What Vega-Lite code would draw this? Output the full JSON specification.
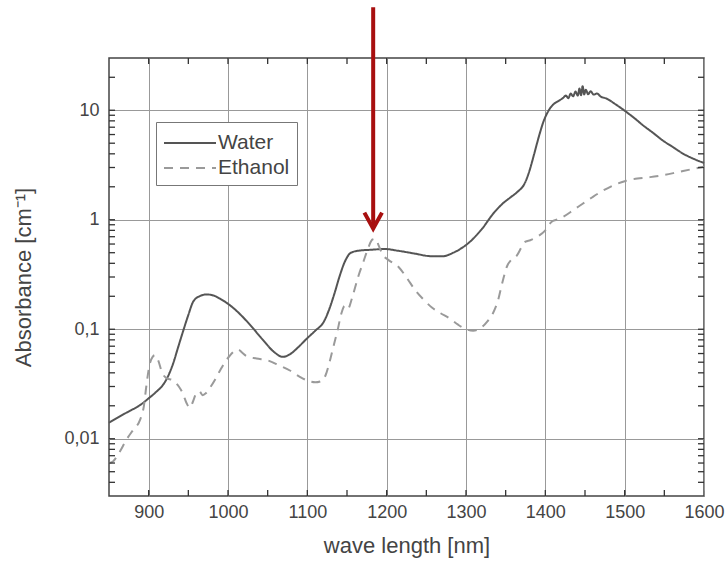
{
  "$schema": "https://vega.github.io/schema/vega-lite/v6.json",
  "width": 595,
  "height": 438,
  "autosize": {"type": "pad"},
  "padding": {"left": 12, "top": 5, "right": 0, "bottom": 6},
  "background": "white",
  "config": {
    "font": "Liberation Sans",
    "view": {"stroke": "#444", "strokeWidth": 1.5},
    "axis": {
      "domain": false,
      "gridColor": "#999",
      "gridWidth": 1,
      "labelFont": "Liberation Sans",
      "labelFontSize": 18,
      "labelColor": "#444",
      "titleFont": "Liberation Sans",
      "titleFontSize": 22,
      "titleFontWeight": "normal",
      "titleColor": "#444",
      "labelOverlap": false,
      "labelFlush": false
    }
  },
  "datasets": {
    "spectra": [
      {"s": "Water", "wl": 850, "a": 0.014},
      {"s": "Water", "wl": 872, "a": 0.0173},
      {"s": "Water", "wl": 890, "a": 0.0205},
      {"s": "Water", "wl": 900, "a": 0.0234},
      {"s": "Water", "wl": 910, "a": 0.027},
      {"s": "Water", "wl": 918, "a": 0.031},
      {"s": "Water", "wl": 925, "a": 0.038},
      {"s": "Water", "wl": 931, "a": 0.049},
      {"s": "Water", "wl": 937, "a": 0.068},
      {"s": "Water", "wl": 943, "a": 0.094},
      {"s": "Water", "wl": 950, "a": 0.135},
      {"s": "Water", "wl": 956, "a": 0.178},
      {"s": "Water", "wl": 964, "a": 0.2},
      {"s": "Water", "wl": 973, "a": 0.208},
      {"s": "Water", "wl": 982, "a": 0.203},
      {"s": "Water", "wl": 990, "a": 0.19},
      {"s": "Water", "wl": 1006, "a": 0.158},
      {"s": "Water", "wl": 1023, "a": 0.12},
      {"s": "Water", "wl": 1044, "a": 0.08},
      {"s": "Water", "wl": 1058, "a": 0.062},
      {"s": "Water", "wl": 1069, "a": 0.056},
      {"s": "Water", "wl": 1078, "a": 0.059},
      {"s": "Water", "wl": 1088, "a": 0.068},
      {"s": "Water", "wl": 1100, "a": 0.083},
      {"s": "Water", "wl": 1110, "a": 0.097},
      {"s": "Water", "wl": 1121, "a": 0.118},
      {"s": "Water", "wl": 1128, "a": 0.155},
      {"s": "Water", "wl": 1134, "a": 0.21},
      {"s": "Water", "wl": 1141, "a": 0.31},
      {"s": "Water", "wl": 1147, "a": 0.41},
      {"s": "Water", "wl": 1155, "a": 0.5},
      {"s": "Water", "wl": 1165, "a": 0.522},
      {"s": "Water", "wl": 1180, "a": 0.532},
      {"s": "Water", "wl": 1198, "a": 0.54},
      {"s": "Water", "wl": 1215, "a": 0.52},
      {"s": "Water", "wl": 1236, "a": 0.49},
      {"s": "Water", "wl": 1255, "a": 0.465},
      {"s": "Water", "wl": 1270, "a": 0.463},
      {"s": "Water", "wl": 1284, "a": 0.5},
      {"s": "Water", "wl": 1296, "a": 0.56},
      {"s": "Water", "wl": 1308, "a": 0.66},
      {"s": "Water", "wl": 1321, "a": 0.84},
      {"s": "Water", "wl": 1334, "a": 1.13},
      {"s": "Water", "wl": 1346, "a": 1.4},
      {"s": "Water", "wl": 1356, "a": 1.6},
      {"s": "Water", "wl": 1365, "a": 1.8},
      {"s": "Water", "wl": 1374, "a": 2.15},
      {"s": "Water", "wl": 1380, "a": 2.8},
      {"s": "Water", "wl": 1386, "a": 4.0},
      {"s": "Water", "wl": 1392, "a": 5.8},
      {"s": "Water", "wl": 1398, "a": 8.0},
      {"s": "Water", "wl": 1404, "a": 9.9},
      {"s": "Water", "wl": 1410, "a": 11.3},
      {"s": "Water", "wl": 1417, "a": 12.2},
      {"s": "Water", "wl": 1422, "a": 12.9},
      {"s": "Water", "wl": 1426, "a": 13.6},
      {"s": "Water", "wl": 1429, "a": 12.9},
      {"s": "Water", "wl": 1432, "a": 14.2},
      {"s": "Water", "wl": 1435, "a": 13.4},
      {"s": "Water", "wl": 1438, "a": 14.8},
      {"s": "Water", "wl": 1441, "a": 13.6},
      {"s": "Water", "wl": 1443, "a": 15.8},
      {"s": "Water", "wl": 1445, "a": 13.7},
      {"s": "Water", "wl": 1447, "a": 16.6},
      {"s": "Water", "wl": 1449, "a": 13.9},
      {"s": "Water", "wl": 1451, "a": 15.4},
      {"s": "Water", "wl": 1454, "a": 14.0},
      {"s": "Water", "wl": 1457, "a": 14.9},
      {"s": "Water", "wl": 1461, "a": 13.9},
      {"s": "Water", "wl": 1465, "a": 14.2},
      {"s": "Water", "wl": 1470, "a": 13.3},
      {"s": "Water", "wl": 1477, "a": 12.8},
      {"s": "Water", "wl": 1488, "a": 11.4},
      {"s": "Water", "wl": 1500, "a": 9.9},
      {"s": "Water", "wl": 1512, "a": 8.5},
      {"s": "Water", "wl": 1523, "a": 7.3},
      {"s": "Water", "wl": 1536, "a": 6.2},
      {"s": "Water", "wl": 1548, "a": 5.3},
      {"s": "Water", "wl": 1561, "a": 4.6},
      {"s": "Water", "wl": 1574, "a": 4.0},
      {"s": "Water", "wl": 1587, "a": 3.6},
      {"s": "Water", "wl": 1600, "a": 3.3},
      {"s": "Ethanol", "wl": 850, "a": 0.006},
      {"s": "Ethanol", "wl": 855, "a": 0.0062},
      {"s": "Ethanol", "wl": 863, "a": 0.0075},
      {"s": "Ethanol", "wl": 872, "a": 0.0098},
      {"s": "Ethanol", "wl": 881, "a": 0.0122},
      {"s": "Ethanol", "wl": 889, "a": 0.0148},
      {"s": "Ethanol", "wl": 894, "a": 0.02},
      {"s": "Ethanol", "wl": 897, "a": 0.03},
      {"s": "Ethanol", "wl": 901, "a": 0.047},
      {"s": "Ethanol", "wl": 905, "a": 0.056},
      {"s": "Ethanol", "wl": 908, "a": 0.058},
      {"s": "Ethanol", "wl": 912, "a": 0.052},
      {"s": "Ethanol", "wl": 917, "a": 0.04},
      {"s": "Ethanol", "wl": 922, "a": 0.036},
      {"s": "Ethanol", "wl": 931, "a": 0.034},
      {"s": "Ethanol", "wl": 938, "a": 0.03},
      {"s": "Ethanol", "wl": 943, "a": 0.026},
      {"s": "Ethanol", "wl": 948, "a": 0.021},
      {"s": "Ethanol", "wl": 952, "a": 0.0192},
      {"s": "Ethanol", "wl": 956, "a": 0.022},
      {"s": "Ethanol", "wl": 960, "a": 0.026},
      {"s": "Ethanol", "wl": 964, "a": 0.027},
      {"s": "Ethanol", "wl": 968, "a": 0.025},
      {"s": "Ethanol", "wl": 972, "a": 0.026},
      {"s": "Ethanol", "wl": 977, "a": 0.029},
      {"s": "Ethanol", "wl": 984, "a": 0.035},
      {"s": "Ethanol", "wl": 990, "a": 0.042},
      {"s": "Ethanol", "wl": 996, "a": 0.05},
      {"s": "Ethanol", "wl": 1002, "a": 0.057},
      {"s": "Ethanol", "wl": 1008, "a": 0.063},
      {"s": "Ethanol", "wl": 1013, "a": 0.065},
      {"s": "Ethanol", "wl": 1018, "a": 0.061},
      {"s": "Ethanol", "wl": 1023, "a": 0.057},
      {"s": "Ethanol", "wl": 1036, "a": 0.054},
      {"s": "Ethanol", "wl": 1050, "a": 0.052},
      {"s": "Ethanol", "wl": 1064, "a": 0.047},
      {"s": "Ethanol", "wl": 1078, "a": 0.042},
      {"s": "Ethanol", "wl": 1090, "a": 0.037},
      {"s": "Ethanol", "wl": 1100, "a": 0.034},
      {"s": "Ethanol", "wl": 1110, "a": 0.0328},
      {"s": "Ethanol", "wl": 1117, "a": 0.0335},
      {"s": "Ethanol", "wl": 1123, "a": 0.038},
      {"s": "Ethanol", "wl": 1128, "a": 0.05},
      {"s": "Ethanol", "wl": 1133, "a": 0.07},
      {"s": "Ethanol", "wl": 1138, "a": 0.097},
      {"s": "Ethanol", "wl": 1143, "a": 0.14},
      {"s": "Ethanol", "wl": 1147, "a": 0.163},
      {"s": "Ethanol", "wl": 1151, "a": 0.153},
      {"s": "Ethanol", "wl": 1157, "a": 0.2},
      {"s": "Ethanol", "wl": 1164, "a": 0.3},
      {"s": "Ethanol", "wl": 1171, "a": 0.42},
      {"s": "Ethanol", "wl": 1177, "a": 0.56},
      {"s": "Ethanol", "wl": 1182, "a": 0.66},
      {"s": "Ethanol", "wl": 1186, "a": 0.67},
      {"s": "Ethanol", "wl": 1190, "a": 0.58},
      {"s": "Ethanol", "wl": 1195, "a": 0.48},
      {"s": "Ethanol", "wl": 1202, "a": 0.43},
      {"s": "Ethanol", "wl": 1215, "a": 0.37},
      {"s": "Ethanol", "wl": 1226, "a": 0.29},
      {"s": "Ethanol", "wl": 1236, "a": 0.227},
      {"s": "Ethanol", "wl": 1247, "a": 0.185},
      {"s": "Ethanol", "wl": 1257, "a": 0.158},
      {"s": "Ethanol", "wl": 1268, "a": 0.14},
      {"s": "Ethanol", "wl": 1279, "a": 0.126},
      {"s": "Ethanol", "wl": 1290, "a": 0.11},
      {"s": "Ethanol", "wl": 1300, "a": 0.1},
      {"s": "Ethanol", "wl": 1309, "a": 0.097},
      {"s": "Ethanol", "wl": 1318, "a": 0.102},
      {"s": "Ethanol", "wl": 1327, "a": 0.118},
      {"s": "Ethanol", "wl": 1334, "a": 0.14},
      {"s": "Ethanol", "wl": 1340, "a": 0.18},
      {"s": "Ethanol", "wl": 1346, "a": 0.27},
      {"s": "Ethanol", "wl": 1352, "a": 0.38},
      {"s": "Ethanol", "wl": 1357, "a": 0.43},
      {"s": "Ethanol", "wl": 1364, "a": 0.47},
      {"s": "Ethanol", "wl": 1370, "a": 0.56},
      {"s": "Ethanol", "wl": 1375, "a": 0.63},
      {"s": "Ethanol", "wl": 1381, "a": 0.65},
      {"s": "Ethanol", "wl": 1390, "a": 0.7},
      {"s": "Ethanol", "wl": 1400, "a": 0.8},
      {"s": "Ethanol", "wl": 1408, "a": 0.96},
      {"s": "Ethanol", "wl": 1414, "a": 1.0},
      {"s": "Ethanol", "wl": 1422, "a": 1.06},
      {"s": "Ethanol", "wl": 1435, "a": 1.22},
      {"s": "Ethanol", "wl": 1447, "a": 1.4},
      {"s": "Ethanol", "wl": 1460, "a": 1.62},
      {"s": "Ethanol", "wl": 1473, "a": 1.85},
      {"s": "Ethanol", "wl": 1487, "a": 2.08},
      {"s": "Ethanol", "wl": 1500, "a": 2.25},
      {"s": "Ethanol", "wl": 1516, "a": 2.38},
      {"s": "Ethanol", "wl": 1532, "a": 2.45},
      {"s": "Ethanol", "wl": 1548, "a": 2.55},
      {"s": "Ethanol", "wl": 1565, "a": 2.7},
      {"s": "Ethanol", "wl": 1582, "a": 2.87},
      {"s": "Ethanol", "wl": 1600, "a": 3.05}
    ],
    "xticks": [
      {"v": 900}, {"v": 950}, {"v": 1000}, {"v": 1050}, {"v": 1100}, {"v": 1150}, {"v": 1200}, {"v": 1250},
      {"v": 1300}, {"v": 1350}, {"v": 1400}, {"v": 1450}, {"v": 1500}, {"v": 1550}
    ],
    "yticks": [
      {"v": 0.004}, {"v": 0.005}, {"v": 0.006}, {"v": 0.007}, {"v": 0.008}, {"v": 0.009}, {"v": 0.01},
      {"v": 0.02}, {"v": 0.03}, {"v": 0.04}, {"v": 0.05}, {"v": 0.06}, {"v": 0.07}, {"v": 0.08}, {"v": 0.09}, {"v": 0.1},
      {"v": 0.2}, {"v": 0.3}, {"v": 0.4}, {"v": 0.5}, {"v": 0.6}, {"v": 0.7}, {"v": 0.8}, {"v": 0.9}, {"v": 1},
      {"v": 2}, {"v": 3}, {"v": 4}, {"v": 5}, {"v": 6}, {"v": 7}, {"v": 8}, {"v": 9}, {"v": 10}, {"v": 20}
    ],
    "arrow": [
      {"wl": 1183, "top": 87, "tip": 0.85}
    ],
    "arrowhead": [
      {"wl": 1183, "tip": 0.83}
    ]
  },
  "layer": [
    {
      "data": {"name": "spectra"},
      "mark": {"type": "line", "strokeWidth": 2, "interpolate": "monotone"},
      "encoding": {
        "x": {
          "field": "wl", "type": "quantitative",
          "title": "wave length [nm]",
          "scale": {"domain": [850, 1600], "nice": false, "zero": false},
          "axis": {
            "orient": "bottom",
            "title": "wave length [nm]",
            "titlePadding": 14,
            "values": [900, 1000, 1100, 1200, 1300, 1400, 1500, 1600],
            "labelExpr": "'' + datum.value",
            "tickSize": -6,
            "labelPadding": 13,
            "grid": true
          }
        },
        "y": {
          "field": "a", "type": "quantitative",
          "title": "Absorbance [cm⁻¹]",
          "scale": {"type": "log", "domain": [0.003, 30], "nice": false},
          "axis": {
            "orient": "left",
            "title": "Absorbance [cm⁻¹]",
            "titlePadding": 28,
            "values": [0.01, 0.1, 1, 10],
            "labelExpr": "datum.value == 0.01 ? '0,01' : datum.value == 0.1 ? '0,1' : datum.value == 1 ? '1' : '10'",
            "tickSize": -6,
            "labelPadding": 16,
            "grid": true
          }
        },
        "color": {
          "field": "s", "type": "nominal",
          "scale": {"domain": ["Water", "Ethanol"], "range": ["#555555", "#9a9a9a"]},
          "legend": {
            "title": null,
            "orient": "none",
            "legendX": 47,
            "legendY": 64,
            "strokeColor": "#777",
            "fillColor": "white",
            "padding": 7,
            "symbolType": "M-1,0L3,0",
            "symbolSize": 676,
            "symbolStrokeWidth": 2,
            "labelFontSize": 21,
            "labelFont": "Liberation Sans",
            "labelColor": "#444",
            "labelOffset": 27,
            "rowPadding": 1
          }
        },
        "strokeDash": {
          "field": "s", "type": "nominal",
          "scale": {"domain": ["Water", "Ethanol"], "range": [[1, 0], [9, 7]]},
          "legend": {
            "title": null,
            "orient": "none",
            "legendX": 47,
            "legendY": 64,
            "strokeColor": "#777",
            "fillColor": "white",
            "padding": 7,
            "symbolType": "M-1,0L3,0",
            "symbolSize": 676,
            "symbolStrokeWidth": 2,
            "labelFontSize": 21,
            "labelFont": "Liberation Sans",
            "labelColor": "#444",
            "labelOffset": 27,
            "rowPadding": 1
          }
        }
      }
    },
    {
      "data": {"name": "xticks"},
      "mark": {"type": "tick", "orient": "vertical", "size": 6, "thickness": 1.3, "color": "#333", "opacity": 1, "yOffset": -3},
      "encoding": {
        "x": {"field": "v", "type": "quantitative", "title": "wave length [nm]", "scale": {"domain": [850, 1600], "nice": false, "zero": false}},
        "y": {"datum": 0.003, "type": "quantitative", "title": "Absorbance [cm⁻¹]", "scale": {"type": "log", "domain": [0.003, 30], "nice": false}}
      }
    },
    {
      "data": {"name": "xticks"},
      "mark": {"type": "tick", "orient": "vertical", "size": 6, "thickness": 1.3, "color": "#333", "opacity": 1, "yOffset": 3},
      "encoding": {
        "x": {"field": "v", "type": "quantitative", "title": "wave length [nm]", "scale": {"domain": [850, 1600], "nice": false, "zero": false}},
        "y": {"datum": 30, "type": "quantitative", "title": "Absorbance [cm⁻¹]", "scale": {"type": "log", "domain": [0.003, 30], "nice": false}}
      }
    },
    {
      "data": {"name": "yticks"},
      "mark": {"type": "tick", "orient": "horizontal", "size": 6, "thickness": 1.3, "color": "#333", "opacity": 1, "xOffset": 3},
      "encoding": {
        "x": {"datum": 850, "type": "quantitative", "title": "wave length [nm]", "scale": {"domain": [850, 1600], "nice": false, "zero": false}},
        "y": {"field": "v", "type": "quantitative", "title": "Absorbance [cm⁻¹]", "scale": {"type": "log", "domain": [0.003, 30], "nice": false}}
      }
    },
    {
      "data": {"name": "yticks"},
      "mark": {"type": "tick", "orient": "horizontal", "size": 6, "thickness": 1.3, "color": "#333", "opacity": 1, "xOffset": -3},
      "encoding": {
        "x": {"datum": 1600, "type": "quantitative", "title": "wave length [nm]", "scale": {"domain": [850, 1600], "nice": false, "zero": false}},
        "y": {"field": "v", "type": "quantitative", "title": "Absorbance [cm⁻¹]", "scale": {"type": "log", "domain": [0.003, 30], "nice": false}}
      }
    },
    {
      "data": {"name": "arrow"},
      "mark": {"type": "rule", "color": "#a80f0f", "strokeWidth": 4},
      "encoding": {
        "x": {"field": "wl", "type": "quantitative", "title": "wave length [nm]", "scale": {"domain": [850, 1600], "nice": false, "zero": false}},
        "y": {"field": "top", "type": "quantitative", "title": "Absorbance [cm⁻¹]", "scale": {"type": "log", "domain": [0.003, 30], "nice": false}},
        "y2": {"field": "tip"}
      }
    },
    {
      "data": {"name": "arrowhead"},
      "mark": {"type": "point", "shape": "M-0.55,-1L0,0L0.55,-1", "filled": false, "stroke": "#a80f0f", "strokeWidth": 4, "opacity": 1, "size": 1024, "strokeJoin": "miter"},
      "encoding": {
        "x": {"field": "wl", "type": "quantitative", "title": "wave length [nm]", "scale": {"domain": [850, 1600], "nice": false, "zero": false}},
        "y": {"field": "tip", "type": "quantitative", "title": "Absorbance [cm⁻¹]", "scale": {"type": "log", "domain": [0.003, 30], "nice": false}}
      }
    }
  ]
}
